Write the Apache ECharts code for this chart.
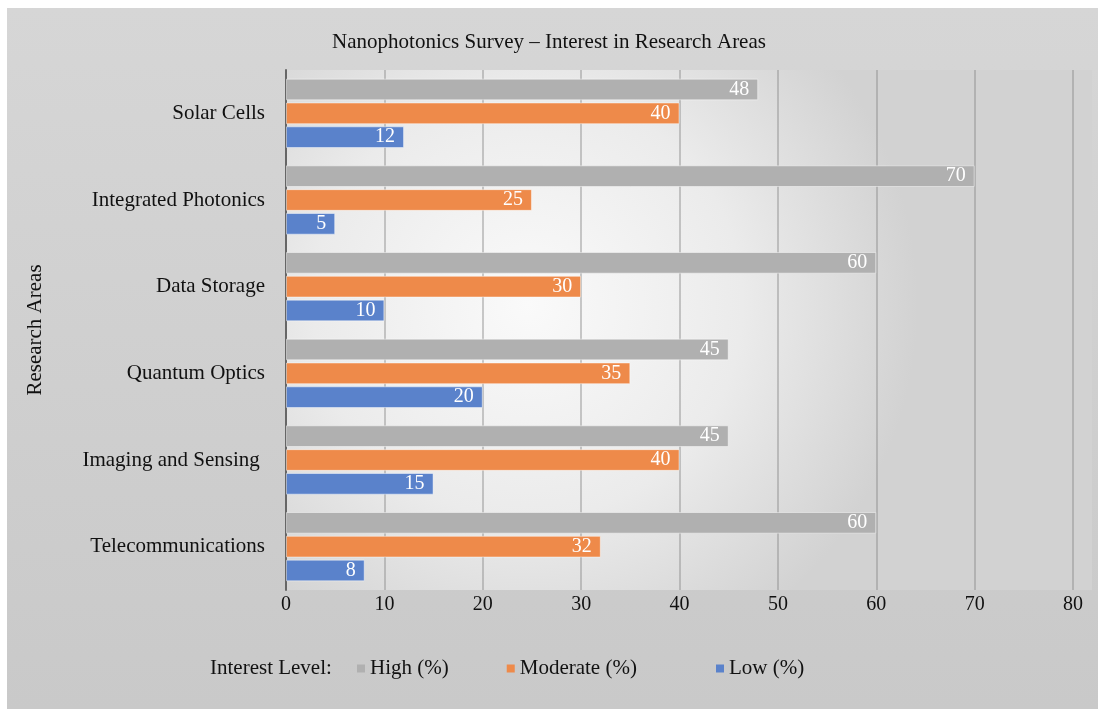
<!DOCTYPE html>
<html>
<head>
<meta charset="utf-8">
<script src="https://cdn.jsdelivr.net/npm/echarts@6/dist/echarts.min.js"></script>
<style>
html,body{margin:0;padding:0;background:#ffffff;}
#chart{width:1098px;height:709px;}
</style>
</head>
<body>
<div id="chart"></div>
<script>
const categories = ['Solar Cells', 'Integrated Photonics', 'Data Storage', 'Quantum Optics', 'Imaging and Sensing ', 'Telecommunications'];
const highValues = [48, 70, 60, 45, 45, 60];
const moderateValues = [40, 25, 30, 35, 40, 32];
const lowValues = [12, 5, 10, 20, 15, 8];
const xTicks = [0, 10, 20, 30, 40, 50, 60, 70, 80];

const FONT = '"Liberation Serif", "Times New Roman", serif';
const chart = echarts.init(document.getElementById('chart'));

const labelCfg = {
  show: true,
  position: 'insideRight',
  distance: 9,
  color: '#ffffff',
  fontFamily: FONT,
  fontSize: 20
};

function mkSeries(name, data, color) {
  return {
    name: name,
    type: 'bar',
    data: data,
    barGap: '10%',
    barCategoryGap: '20%',
    itemStyle: { color: color, borderColor: 'rgba(255,255,255,0.45)', borderWidth: 1 },
    label: labelCfg,
    emphasis: { disabled: true }
  };
}

const legendText = { fontFamily: FONT, fontSize: 21, color: '#111' };

chart.setOption({
  animation: false,
  backgroundColor: '#ffffff',
  textStyle: { fontFamily: FONT },
  graphic: [
    {
      type: 'rect', z: -10, silent: true,
      shape: { x: 7, y: 8, width: 1091, height: 701 },
      style: { fill: new echarts.graphic.LinearGradient(0, 0, 0, 1, [
        { offset: 0, color: '#d6d6d6' }, { offset: 1, color: '#c9c9c9' }]) }
    },
    {
      type: 'rect', z: -9, silent: true,
      shape: { x: 286, y: 70, width: 806, height: 520 },
      style: { fill: new echarts.graphic.RadialGradient(0.3, 0.45, 0.75, [
        { offset: 0, color: '#fafafa' }, { offset: 0.55, color: '#ebebeb' }, { offset: 1, color: '#d2d2d2' }]) }
    },
    {
      type: 'text', left: 210, top: 658,
      style: { text: 'Interest Level:', fontFamily: FONT, fontSize: 21, fill: '#111' }
    }
  ],
  title: {
    text: 'Nanophotonics Survey – Interest in Research Areas',
    left: 'center',
    top: 27,
    textStyle: { fontFamily: FONT, fontSize: 21, fontWeight: 'normal', color: '#111' }
  },
  legend: [
    {
      left: 352, top: 653, itemWidth: 8, itemHeight: 8, itemGap: 58, icon: 'rect',
      itemStyle: { borderWidth: 0 },
      data: ['High (%)', 'Moderate (%)'],
      textStyle: legendText
    },
    {
      left: 711, top: 653, itemWidth: 8, itemHeight: 8, icon: 'rect',
      itemStyle: { borderWidth: 0 },
      data: ['Low (%)'],
      textStyle: legendText
    }
  ],
  grid: { left: 286, right: 25, top: 70, bottom: 119 },
  xAxis: {
    type: 'value',
    min: 0,
    max: 80,
    interval: 10,
    axisLine: { show: false },
    axisTick: { show: false },
    axisLabel: { fontFamily: FONT, fontSize: 20, color: '#111', margin: 5,
      formatter: function (v) { return xTicks.indexOf(v) >= 0 ? String(v) : ''; } },
    splitLine: { show: true, lineStyle: { color: 'rgba(140,140,140,0.45)', width: 2 } }
  },
  yAxis: {
    type: 'category',
    inverse: true,
    data: categories,
    name: 'Research Areas',
    nameLocation: 'middle',
    nameRotate: 90,
    nameGap: 240,
    nameTextStyle: { fontFamily: FONT, fontSize: 21, color: '#111' },
    axisLine: { show: true, lineStyle: { color: '#666', width: 2 } },
    axisTick: { show: false },
    axisLabel: { fontFamily: FONT, fontSize: 21, color: '#111', margin: 21 },
    splitLine: { show: false }
  },
  series: [
    mkSeries('High (%)', highValues, '#b0b0b0'),
    mkSeries('Moderate (%)', moderateValues, '#ee8a4a'),
    mkSeries('Low (%)', lowValues, '#5a82cb')
  ]
});
</script>
</body>
</html>
